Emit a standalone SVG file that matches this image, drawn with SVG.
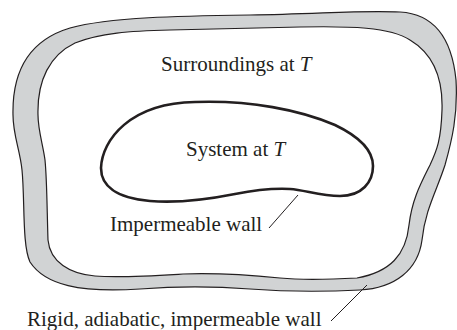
<svg xmlns="http://www.w3.org/2000/svg" width="457" height="330" viewBox="0 0 457 330">
<style>
.lbl{font-family:"Liberation Serif","Times New Roman",serif;font-size:21px;fill:#231f20}
.it{font-style:italic}
.wall{fill:#d1d3d4;stroke:#231f20;stroke-width:1.2;fill-rule:evenodd}
.sys{fill:none;stroke:#231f20;stroke-width:2.6}
.lead{fill:none;stroke:#231f20;stroke-width:1}
</style>
<rect width="457" height="330" fill="#ffffff"/>
<g id="surroundings-wall">
<path class="wall" d="M 13,115 C 12,70 30,40 70,28 C 110,17 180,16 250,15 C 320,14 360,10 400,12 C 435,14 452,40 456,80 C 458,115 452,140 445,165 C 437,190 425,210 422,240 C 418,270 395,288 360,290 C 320,292 290,292 250,289 C 210,286 180,286 140,289 C 80,293 45,285 30,262 C 22,245 25,200 22,170 C 20,150 13,135 13,115 Z M 38,115 C 37,80 50,55 75,43 C 100,33 130,31 170,30 C 220,29 260,28 300,27 C 350,26 390,27 410,40 C 435,55 443,80 442,110 C 441,140 437,150 430,165 C 420,185 412,200 409,225 C 406,255 390,272 357,278 C 320,280 300,280 280,278 C 240,274 210,273 183,274 C 150,276 120,278 95,276 C 70,274 50,262 48,240 C 47,210 47,180 45,160 C 43,145 38,130 38,115 Z"/>
<text class="lbl" x="161" y="71">Surroundings at <tspan class="it">T</tspan></text>
</g>
<g id="system">
<path class="sys" d="M 195,102 C 250,100 300,110 335,125 C 360,137 373,150 373,166 C 373,182 362,196 340,196 C 320,196 305,190 290,189 C 270,188 255,190 235,194 C 205,200 175,203 150,201 C 115,198 101,185 101,168 C 102,140 130,103 195,102 Z"/>
<text class="lbl" x="186" y="156">System at <tspan class="it">T</tspan></text>
</g>
<g id="connectors">
<line class="lead" x1="298" y1="195" x2="269" y2="228"/>
<line class="lead" x1="367" y1="285" x2="331" y2="321"/>
</g>
<g id="labels">
<text class="lbl" x="110" y="231">Impermeable wall</text>
<text class="lbl" x="27" y="326">Rigid, adiabatic, impermeable wall</text>
</g>
</svg>
